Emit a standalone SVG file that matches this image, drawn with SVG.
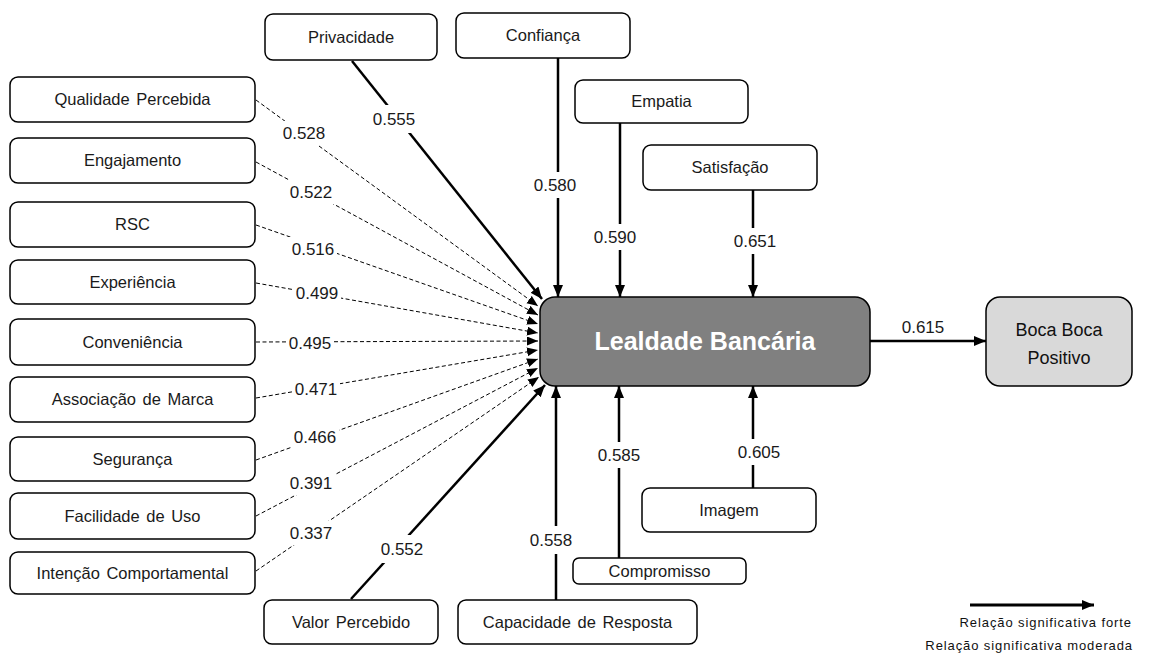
<svg xmlns="http://www.w3.org/2000/svg" width="1149" height="657" viewBox="0 0 1149 657">
<style>
.box{fill:#fff;stroke:#000;stroke-width:1.5}
.t{font-family:"Liberation Sans",Arial,sans-serif;font-size:16.5px;fill:#1a1a1a;text-anchor:middle;word-spacing:2px}
.n{font-family:"Liberation Sans",Arial,sans-serif;font-size:17px;fill:#1a1a1a;text-anchor:middle}
.s{stroke:#000;stroke-width:2.5;fill:none}
.d{stroke:#000;stroke-width:1;stroke-dasharray:4 2.5;fill:none}
.bg{fill:#fff}
.lg{font-family:"Liberation Sans",Arial,sans-serif;font-size:13px;letter-spacing:0.9px;fill:#111;text-anchor:end}
</style>
<defs>
<marker id="as" markerUnits="userSpaceOnUse" markerWidth="13" markerHeight="11" refX="12" refY="5" orient="auto"><path d="M0,0 L12,5 L0,10 z" fill="#000"/></marker>
<marker id="ad" markerUnits="userSpaceOnUse" markerWidth="12" markerHeight="10" refX="11" refY="4.5" orient="auto"><path d="M0,0 L11,4.5 L0,9 z" fill="#000"/></marker>
</defs>

<g id="connectors">
<line class="d" x1="256" y1="100" x2="538" y2="306" marker-end="url(#ad)"/>
<line class="d" x1="256" y1="162" x2="538" y2="315" marker-end="url(#ad)"/>
<line class="d" x1="256" y1="225" x2="538" y2="324" marker-end="url(#ad)"/>
<line class="d" x1="256" y1="283" x2="538" y2="333" marker-end="url(#ad)"/>
<line class="d" x1="256" y1="342" x2="538" y2="341" marker-end="url(#ad)"/>
<line class="d" x1="256" y1="398" x2="538" y2="350" marker-end="url(#ad)"/>
<line class="d" x1="256" y1="460" x2="538" y2="359" marker-end="url(#ad)"/>
<line class="d" x1="256" y1="516" x2="538" y2="368" marker-end="url(#ad)"/>
<line class="d" x1="256" y1="571" x2="539" y2="377" marker-end="url(#ad)"/>
<line class="s" x1="352" y1="61" x2="542" y2="299" marker-end="url(#as)"/>
<line class="s" x1="558" y1="58" x2="558" y2="297" marker-end="url(#as)"/>
<line class="s" x1="620" y1="123" x2="620" y2="297" marker-end="url(#as)"/>
<line class="s" x1="753" y1="190" x2="753" y2="297" marker-end="url(#as)"/>
<line class="s" x1="351" y1="599" x2="545" y2="385" marker-end="url(#as)"/>
<line class="s" x1="556" y1="600" x2="556" y2="386" marker-end="url(#as)"/>
<line class="s" x1="619" y1="558" x2="619" y2="386" marker-end="url(#as)"/>
<line class="s" x1="753" y1="488" x2="753" y2="386" marker-end="url(#as)"/>
<line class="s" x1="870" y1="341" x2="986" y2="341" marker-end="url(#as)"/>
<rect class="bg" x="281" y="121" width="48" height="24"/>
<rect class="bg" x="287" y="180" width="48" height="24"/>
<rect class="bg" x="289" y="237" width="48" height="24"/>
<rect class="bg" x="293" y="281" width="48" height="24"/>
<rect class="bg" x="286" y="331" width="48" height="24"/>
<rect class="bg" x="292" y="377" width="48" height="24"/>
<rect class="bg" x="291" y="425" width="48" height="24"/>
<rect class="bg" x="287" y="471" width="48" height="24"/>
<rect class="bg" x="287" y="521" width="48" height="24"/>
<rect class="bg" x="370" y="105" width="48" height="28"/>
<rect class="bg" x="531" y="172" width="48" height="26"/>
<rect class="bg" x="591" y="224" width="48" height="26"/>
<rect class="bg" x="731" y="228" width="48" height="26"/>
<rect class="bg" x="378" y="535" width="48" height="28"/>
<rect class="bg" x="527" y="526" width="48" height="28"/>
<rect class="bg" x="595" y="442" width="48" height="26"/>
<rect class="bg" x="735" y="439" width="48" height="26"/>
<text class="n" x="304" y="139">0.528</text>
<text class="n" x="311" y="198">0.522</text>
<text class="n" x="313" y="255">0.516</text>
<text class="n" x="317" y="299">0.499</text>
<text class="n" x="310" y="349">0.495</text>
<text class="n" x="316" y="395">0.471</text>
<text class="n" x="315" y="443">0.466</text>
<text class="n" x="311" y="489">0.391</text>
<text class="n" x="311" y="539">0.337</text>
<text class="n" x="394" y="125">0.555</text>
<text class="n" x="555" y="191">0.580</text>
<text class="n" x="615" y="243">0.590</text>
<text class="n" x="755" y="247">0.651</text>
<text class="n" x="402" y="555">0.552</text>
<text class="n" x="551" y="546">0.558</text>
<text class="n" x="619" y="461">0.585</text>
<text class="n" x="759" y="458">0.605</text>
<text class="n" x="923" y="333">0.615</text>
</g>

<g id="qualidade"><rect class="box" x="10" y="77" width="245" height="45" rx="8"/><text class="t" x="132.5" y="105">Qualidade Percebida</text></g>
<g id="engajamento"><rect class="box" x="10" y="138" width="245" height="45" rx="8"/><text class="t" x="132.5" y="166">Engajamento</text></g>
<g id="rsc"><rect class="box" x="10" y="202" width="245" height="45" rx="8"/><text class="t" x="132.5" y="230">RSC</text></g>
<g id="experiencia"><rect class="box" x="10" y="260" width="245" height="44" rx="8"/><text class="t" x="132.5" y="288">Experiência</text></g>
<g id="conveniencia"><rect class="box" x="10" y="319" width="245" height="46" rx="8"/><text class="t" x="132.5" y="348">Conveniência</text></g>
<g id="associacao"><rect class="box" x="10" y="377" width="245" height="45" rx="8"/><text class="t" x="132.5" y="405">Associação de Marca</text></g>
<g id="seguranca"><rect class="box" x="10" y="437" width="245" height="44" rx="8"/><text class="t" x="132.5" y="465">Segurança</text></g>
<g id="facilidade"><rect class="box" x="10" y="493" width="245" height="46" rx="8"/><text class="t" x="132.5" y="522">Facilidade de Uso</text></g>
<g id="intencao"><rect class="box" x="10" y="552" width="245" height="42" rx="8"/><text class="t" x="132.5" y="579">Intenção Comportamental</text></g>

<g id="privacidade"><rect class="box" x="265" y="14" width="172" height="46" rx="8"/><text class="t" x="351" y="43">Privacidade</text></g>
<g id="confianca"><rect class="box" x="456" y="13" width="174" height="45" rx="8"/><text class="t" x="543" y="41">Confiança</text></g>
<g id="empatia"><rect class="box" x="575" y="80" width="173" height="43" rx="8"/><text class="t" x="661.5" y="107">Empatia</text></g>
<g id="satisfacao"><rect class="box" x="643" y="145" width="174" height="45" rx="8"/><text class="t" x="730" y="173">Satisfação</text></g>

<g id="lealdade"><rect x="540" y="297" width="330" height="89" rx="15" fill="#808080" stroke="#000" stroke-width="1.5"/><text x="705" y="350" font-family="Liberation Sans,Arial,sans-serif" font-size="25" font-weight="bold" fill="#fff" text-anchor="middle">Lealdade Bancária</text></g>
<g id="boca"><rect x="986" y="297" width="146" height="89" rx="14" fill="#d9d9d9" stroke="#000" stroke-width="1.5"/><text x="1059" y="336" font-family="Liberation Sans,Arial,sans-serif" font-size="18" fill="#111" text-anchor="middle">Boca Boca</text><text x="1059" y="364" font-family="Liberation Sans,Arial,sans-serif" font-size="18" fill="#111" text-anchor="middle">Positivo</text></g>

<g id="imagem"><rect class="box" x="642" y="488" width="174" height="44" rx="8"/><text class="t" x="729" y="516">Imagem</text></g>
<g id="compromisso"><rect class="box" x="573" y="558" width="173" height="26" rx="6"/><text class="t" x="659.5" y="577">Compromisso</text></g>
<g id="valor"><rect class="box" x="264" y="600" width="174" height="44" rx="8"/><text class="t" x="351" y="628">Valor Percebido</text></g>
<g id="capacidade"><rect class="box" x="458" y="600" width="239" height="44" rx="8"/><text class="t" x="577.5" y="628">Capacidade de Resposta</text></g>

<g id="legend">
<line x1="970" y1="605" x2="1094" y2="605" stroke="#000" stroke-width="3" marker-end="url(#as)"/>
<text class="lg" x="1132" y="627">Relação significativa forte</text>
<text class="lg" x="1133" y="650">Relação significativa moderada</text>
</g>
</svg>
